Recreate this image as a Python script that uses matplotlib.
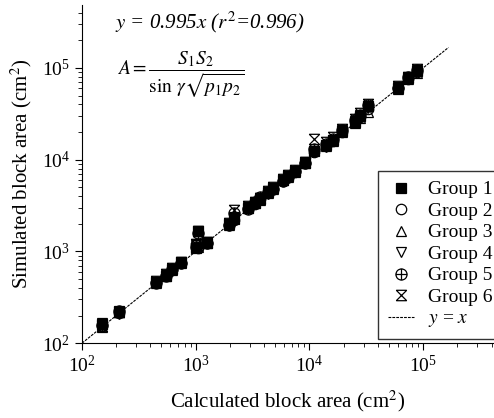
import matplotlib
matplotlib.use("Agg")
from matplotlib import pyplot as plt
from matplotlib.path import Path

plt.rcParams['font.family'] = 'serif'
plt.rcParams['font.serif'] = ['Liberation Serif', 'DejaVu Serif']
plt.rcParams['mathtext.fontset'] = 'stix'

# calculated block area (cm2), shared by all groups
CALC = [150, 210, 450, 550, 620, 740, 1000, 1050, 1250, 1950, 2150, 2900, 3300,
        3700, 4300, 4800, 5900, 6500, 7400, 9200, 11000, 14000, 16000, 19500,
        25000, 28000, 33000, 60000, 74000, 88000]

# simulated block area (cm2) per group
SIM_G1 = [160, 225, 470, 540, 640, 760, 1080, 1650, 1250, 1980, 2250, 3000, 3350,
          3750, 4400, 4900, 6000, 6600, 7500, 9300, 12500, 14500, 16500, 20500,
          25500, 30000, 38000, 61000, 77000, 92000]
SIM_G2 = [155, 215, 460, 560, 630, 750, 1200, 1100, 1240, 1950, 2200, 2950, 3250,
          3700, 4350, 4800, 5900, 6500, 7300, 9200, 12000, 14000, 16000, 20000,
          26000, 29000, 36000, 60000, 76000, 90000]
SIM_G3 = [150, 220, 455, 545, 625, 745, 1150, 1120, 1230, 1960, 2300, 2980, 3400,
          3650, 4300, 4850, 5950, 6400, 7400, 9100, 12800, 14200, 15800, 19800,
          25000, 28500, 33000, 59000, 75000, 88000]
SIM_G4 = [165, 210, 465, 550, 610, 755, 1180, 1080, 1260, 2000, 2400, 3050, 3300,
          3800, 4250, 4950, 6050, 6700, 7600, 9400, 12200, 13800, 16200, 20800,
          26500, 30500, 37000, 62000, 78000, 94000]
SIM_G5 = [158, 222, 450, 535, 650, 740, 1120, 1600, 1250, 1940, 2600, 2900, 3450,
          3900, 4450, 4750, 5850, 6550, 7450, 9250, 13000, 15000, 17000, 21000,
          27000, 31000, 39000, 61000, 79000, 96000]
SIM_G6 = [152, 218, 475, 570, 660, 770, 1220, 1680, 1270, 2050, 2800, 3100, 3500,
          3850, 4500, 5000, 6100, 6800, 7700, 9500, 17000, 15500, 17500, 21500,
          28000, 32000, 40000, 63000, 80000, 98000]

GROUP_LABELS = ["Group 1", "Group 2", "Group 3", "Group 4", "Group 5", "Group 6"]
LINE_X = [100, 167000]


def circle_plus():
    circ = Path.unit_circle()
    cross = Path([(-1, 0), (1, 0), (0, -1), (0, 1)],
                 [Path.MOVETO, Path.LINETO, Path.MOVETO, Path.LINETO])
    return Path.make_compound_path(circ, cross)


def hourglass_x():
    return Path([(-1, -1), (1, 1), (-1, 1), (1, -1), (-1, 1), (1, 1), (-1, -1), (1, -1)],
                [Path.MOVETO, Path.LINETO, Path.MOVETO, Path.LINETO,
                 Path.MOVETO, Path.LINETO, Path.MOVETO, Path.LINETO])


def main():
    fig = plt.figure(figsize=(4.94, 4.18), dpi=100)
    ax = fig.add_axes([0.166, 0.179, 0.834, 0.809])

    styles = [
        dict(marker='s', mfc='black', mec='black', ms=6.5),
        dict(marker='o', mfc='none', mec='black', ms=7.5),
        dict(marker='^', mfc='none', mec='black', ms=7.5),
        dict(marker='v', mfc='none', mec='black', ms=7.5),
        dict(marker=circle_plus(), mfc='none', mec='black', ms=8),
        dict(marker=hourglass_x(), mfc='none', mec='black', ms=7.5),
    ]
    sims = [SIM_G1, SIM_G2, SIM_G3, SIM_G4, SIM_G5, SIM_G6]
    for sim, lab, st in zip(sims, GROUP_LABELS, styles):
        ax.plot(CALC, sim, linestyle='none', label=lab, mew=0.9, **st)

    ax.plot(LINE_X, LINE_X, color='black', linewidth=0.8, dashes=(2.5, 1),
            label='$y$ = $x$')

    ax.set_xscale('log')
    ax.set_yscale('log')
    ax.set_xlim(100, 4.2e5)
    ax.set_ylim(100, 4.85e5)
    ax.spines['top'].set_visible(False)
    ax.spines['right'].set_visible(False)
    ax.tick_params(which='major', direction='out', length=5, labelsize=14)
    ax.tick_params(which='minor', direction='out', length=3)

    ax.set_xlabel('Calculated block area (cm$^2$)', fontsize=15, labelpad=9)
    ax.set_ylabel('Simulated block area (cm$^2$)', fontsize=15, labelpad=6)

    ax.text(0.08, 0.95, '$y$ = 0.995$x$ ($r^2$=0.996)', transform=ax.transAxes,
            fontsize=15, style='italic', va='center', ha='left')
    ax.text(0.085, 0.795, r'$A=\dfrac{S_1S_2}{\sin\,\gamma\sqrt{p_1p_2}}$',
            transform=ax.transAxes, fontsize=14, va='center', ha='left')

    leg = ax.legend(loc='lower left', bbox_to_anchor=(0.718, 0.012, 0.35, 0.50),
                    mode='expand', frameon=True, fancybox=False, fontsize=14,
                    handlelength=1.35, handletextpad=0.75, labelspacing=0.2,
                    borderpad=0.5, borderaxespad=0)
    leg.get_frame().set_edgecolor('black')
    leg.get_frame().set_linewidth(1.0)

    fig.savefig('out.png', dpi=100)


if __name__ == '__main__':
    main()
